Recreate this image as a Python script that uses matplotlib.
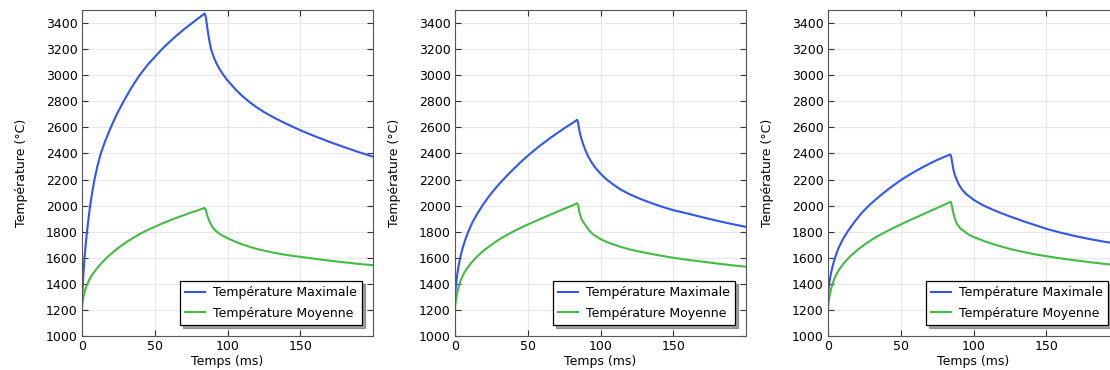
import matplotlib
matplotlib.use("Agg")
import matplotlib.pyplot as plt

plt.rcParams.update({'font.size': 9, 'font.family': 'DejaVu Sans'})

# panneau 1
t1_max = [0, 0.1, 0.25, 0.4, 0.8, 1.3, 1.8, 2.5, 3.2, 4.2, 5.5, 7, 8.5, 10.5, 12.9, 16, 19.8, 24, 28.6, 34,
          39.6, 45, 50, 55, 60, 65, 70, 75.8, 80, 84.3,
          84.8, 85.3, 86, 86.5, 87.5, 88.8, 90.5, 92.2, 94.5, 96.8, 100, 105, 110, 115, 120, 125, 130,
          137, 143, 150, 160, 170, 180, 190, 200]
T1_max = [1240, 1275, 1315, 1351, 1443, 1533, 1608, 1698, 1776, 1876, 1990, 2102, 2195, 2299, 2400, 2497, 2600, 2703, 2800, 2905,
          3000, 3078, 3140, 3200, 3254, 3304, 3351, 3401, 3437, 3473,
          3457, 3432, 3372, 3335, 3265, 3195, 3140, 3095, 3048, 3008, 2960, 2897, 2842, 2795, 2754, 2718, 2686,
          2646, 2614, 2578, 2532, 2489, 2449, 2411, 2375]
t1_moy = [0, 0.2, 0.5, 1, 2, 3, 4, 5, 7, 10, 13, 17, 21, 25, 30, 35, 40, 45, 50, 55, 60, 65, 70, 75, 80, 84.3,
          85, 85.7, 86.5, 88, 90, 92, 95, 100, 105, 110, 115, 120, 125, 131, 137, 143, 150, 160, 170, 180, 190, 200]
T1_moy = [1205, 1240, 1268, 1300, 1345, 1380, 1408, 1432, 1470, 1515, 1554, 1600, 1640, 1676, 1716, 1752, 1784, 1812, 1838,
          1862, 1885, 1907, 1927, 1947, 1965, 1982,
          1968, 1940, 1910, 1868, 1830, 1805, 1780, 1750, 1725, 1703, 1685, 1668, 1655, 1640, 1628, 1617, 1607,
          1592, 1578, 1565, 1553, 1543]

# panneau 2
t2_max = [0, 0.2, 0.5, 1.1, 1.7, 2.5, 3.7, 5, 7, 9.1, 12, 15, 19, 23, 27.5, 32.5, 38, 45, 51.5, 58, 65, 70, 75.5, 80, 84,
          84.6, 85.2, 85.8, 86.8, 88.1, 89.5, 91.5, 93.5, 96.1, 100, 104, 108.7, 114, 120, 127, 134, 142, 150, 158,
          166, 174, 182, 191, 200]
T2_max = [1260, 1322, 1367, 1433, 1484, 1540, 1606, 1665, 1737, 1800, 1872, 1932, 2003, 2066, 2129, 2192, 2256, 2332, 2397,
          2456, 2515, 2554, 2596, 2628, 2658,
          2635, 2595, 2560, 2515, 2470, 2428, 2378, 2338, 2295, 2245, 2202, 2162, 2122, 2087, 2053, 2023, 1992, 1965, 1944,
          1922, 1900, 1879, 1857, 1837]
t2_moy = [0, 0.2, 0.5, 1, 2, 3, 4, 5, 6.5, 8, 11, 15, 20, 25, 30, 35, 40, 45, 50, 55, 60, 65, 70, 75, 80, 84,
          84.7, 85.3, 85.8, 87, 89.2, 92, 95, 100, 104, 108.7, 114, 120, 127, 134, 142, 150, 160, 170, 180, 190, 200]
T2_moy = [1200, 1235, 1265, 1300, 1355, 1395, 1428, 1455, 1488, 1515, 1560, 1608, 1658, 1700, 1738, 1771, 1801, 1829, 1855,
          1880, 1904, 1928, 1952, 1975, 1998, 2018,
          2000, 1960, 1935, 1895, 1856, 1812, 1779, 1743, 1722, 1703, 1683, 1664, 1647, 1631, 1615, 1600, 1584, 1570,
          1556, 1543, 1531]

# panneau 3
t3_max = [0, 0.2, 0.5, 1.1, 2, 3, 4.8, 7, 10, 13.5, 18, 23, 28.5, 35, 42, 50.5, 55, 60, 65, 70, 75, 80, 84,
          84.5, 85, 85.5, 86.2, 87, 88, 90, 92, 95, 100, 104, 108, 114, 120, 125, 131, 137, 143, 150, 160, 170,
          180, 190, 200]
T3_max = [1250, 1335, 1371, 1422, 1478, 1528, 1600, 1668, 1738, 1802, 1872, 1942, 2005, 2068, 2131, 2199, 2230, 2263, 2294,
          2323, 2350, 2374, 2392,
          2380, 2355, 2320, 2275, 2240, 2210, 2160, 2125, 2088, 2045, 2018, 1995, 1965, 1938, 1917, 1893, 1870, 1848,
          1822, 1792, 1766, 1743, 1723, 1705]
t3_moy = [0, 0.2, 0.5, 1, 2, 3, 4, 5, 6.5, 8, 11, 15, 20, 25, 30, 35, 40, 45, 50, 55, 60, 65, 70, 75, 80, 84.3,
          84.8, 85.3, 86.2, 87.3, 88.5, 91, 94.3, 97, 101, 108, 114, 120, 125, 131, 137, 143, 150, 160, 170, 180,
          190, 200]
T3_moy = [1200, 1235, 1265, 1300, 1355, 1395, 1428, 1455, 1488, 1515, 1560, 1608, 1658, 1700, 1738, 1771, 1801, 1829, 1856,
          1882, 1907, 1932, 1957, 1982, 2007, 2030,
          2015, 1990, 1940, 1895, 1862, 1825, 1797, 1775, 1755, 1725, 1703, 1683, 1668, 1652, 1638, 1625, 1612, 1595,
          1580, 1566, 1553, 1540]

panneaux = [(t1_max, T1_max, t1_moy, T1_moy),
            (t2_max, T2_max, t2_moy, T2_moy),
            (t3_max, T3_max, t3_moy, T3_moy)]

bleu = "#3355ee"
vert = "#44bb44"

fig = plt.figure(figsize=(11.1, 3.7), dpi=100)
gauches = [82, 455, 828]
for g, (ta, Ta, tb, Tb) in zip(gauches, panneaux):
    ax = fig.add_axes([g/1110, 34/370, 291/1110, 326/370])
    ax.plot(ta, Ta, color=bleu, linewidth=1.5, label="Température Maximale")
    ax.plot(tb, Tb, color=vert, linewidth=1.5, label="Température Moyenne")
    ax.set_xlim(0, 200)
    ax.set_ylim(1000, 3500)
    ax.set_xticks([0, 50, 100, 150])
    ax.set_yticks(range(1000, 3401, 200))
    ax.grid(color="#e8e8e8", linewidth=0.8)
    ax.set_axisbelow(True)
    ax.tick_params(direction="in", top=True, right=True, length=4, color="#333333", pad=3)
    for s in ax.spines.values():
        s.set_color("#555555")
    ax.set_xlabel("Temps (ms)", labelpad=1)
    ax.set_ylabel("Température (°C)", labelpad=13)
    leg = ax.legend(loc="lower right", fancybox=False, shadow=True, edgecolor="black",
                    framealpha=1, handlelength=1.6, handletextpad=0.6, labelspacing=0.6,
                    borderaxespad=0.9)
    leg.get_frame().set_linewidth(0.9)

plt.savefig("out.png", dpi=100)
